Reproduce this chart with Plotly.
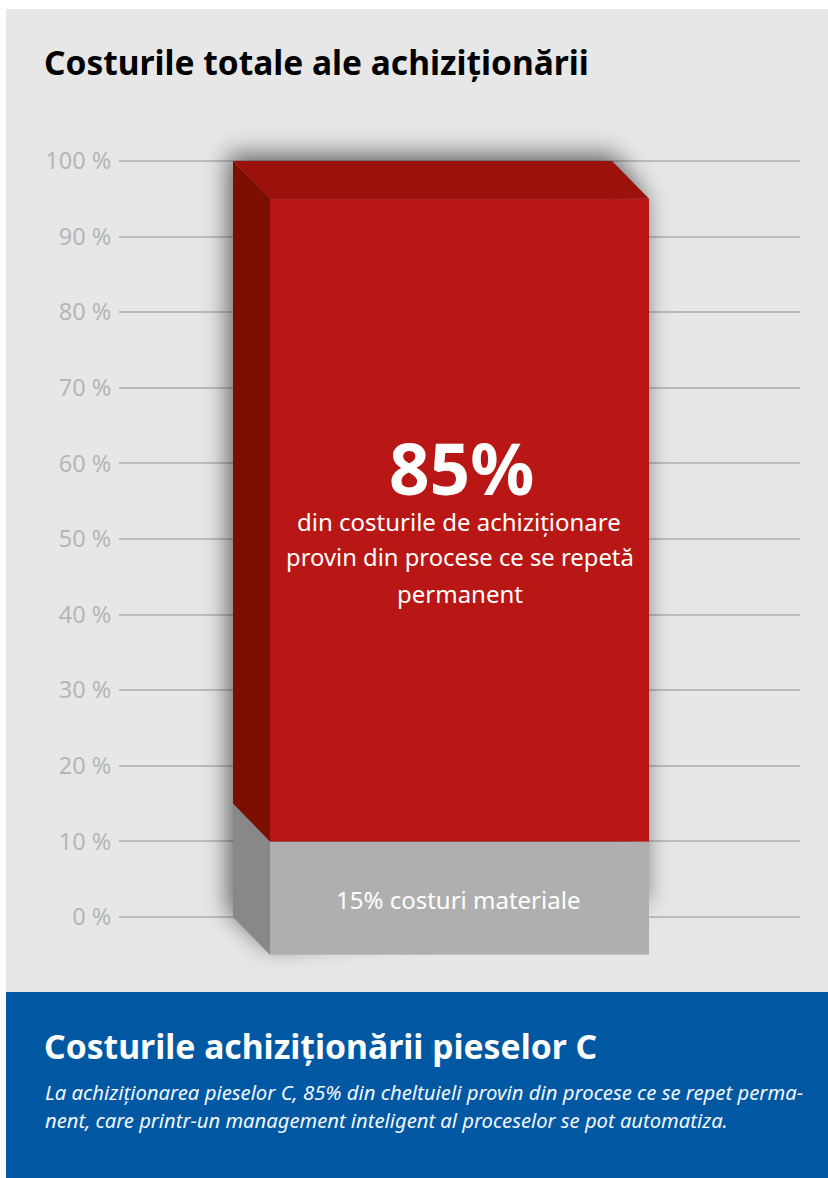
import plotly.graph_objects as go

# Data
tick_values = [0, 10, 20, 30, 40, 50, 60, 70, 80, 90, 100]
segment_names = ["costuri materiale", "procese"]
segment_values = [15, 85]
segment_front = ["#afafaf", "#b81715"]
segment_side = ["#888888", "#7d0f00"]
top_colour = "#9b120c"

W, H = 828, 1178
FONT = "Noto Sans"
Y0_PX, Y100_PX = 917, 161
PX = (Y0_PX - Y100_PX) / 100
PLOT_TOP, PLOT_BOTTOM = 120, 975
X_L, X_R = 119, 800
DEPTH_UNITS = 5.0
DEPTH_X = 37
BAR_LEFT = 233
BAR_W = 379


def y_px(p):
    return (Y0_PX - p) / PX


def py(p):
    return 1 - p / H


fig = go.Figure()


def poly(xs, ys, color, name):
    fig.add_trace(go.Scatter(
        x=xs + xs[:1], y=ys + ys[:1], mode="lines", fill="toself", fillcolor=color,
        line=dict(width=0), name=name, hoverinfo="skip", showlegend=False))


total = sum(segment_values)
L, F, R, RR = BAR_LEFT, BAR_LEFT + DEPTH_X, BAR_LEFT + BAR_W, BAR_LEFT + BAR_W + DEPTH_X

# soft drop shadow (first trace, blurred after drawing)
poly([L - 5, R + 2, RR - 4, RR - 4, F, L - 5],
     [total + 0.9, total + 0.9, total - DEPTH_UNITS, 2, -DEPTH_UNITS + 1, 1],
     "rgba(20,20,20,0.62)", "shadow")

# side faces and front faces, stacked from the values
base = 0
for name, val, side, front in zip(segment_names, segment_values, segment_side, segment_front):
    poly([L, F, F, L], [base, base - DEPTH_UNITS, base + val - DEPTH_UNITS, base + val], side, name)
    poly([F, RR, RR, F],
         [base - DEPTH_UNITS, base - DEPTH_UNITS, base + val - DEPTH_UNITS, base + val - DEPTH_UNITS],
         front, name)
    base += val

# top face
poly([L, R, RR, F], [total, total, total - DEPTH_UNITS, total - DEPTH_UNITS], top_colour, "top")


def note(text, x, y, size, color="white", anchor="center", bold=False, italic=False, family=FONT):
    if bold:
        text = f"<b>{text}</b>"
    if italic:
        text = f"<i>{text}</i>"
    fig.add_annotation(text=text, x=x / W, y=py(y), xref="paper", yref="paper",
                       xanchor=anchor, yanchor="middle", showarrow=False,
                       font=dict(size=size, color=color, family=family))


note("Costurile totale ale achiziționării", 42, 62, 33.5, "#000000", "left", bold=True)
note("85%", 461, 468, 71, bold=True)
note("din costurile de achiziționare", 459, 521, 24)
note("provin din procese ce se repetă", 460, 557, 23.8)
note("permanent", 460, 593, 24)
note("15% costuri materiale", 458, 899, 24)
note("Costurile achiziționării pieselor C", 42, 1046, 33.7, "white", "left", bold=True)
note("La achiziționarea pieselor C, 85% din cheltuieli provin din procese ce se repet perma-",
     43, 1092, 20.3, "#f4f7fb", "left", italic=True)
note("nent, care printr-un management inteligent al proceselor se pot automatiza.",
     43, 1120, 20.2, "#f4f7fb", "left", italic=True)

fig.update_layout(
    width=W, height=H, autosize=False,
    margin=dict(l=0, r=0, t=0, b=0),
    paper_bgcolor="white", plot_bgcolor="rgba(0,0,0,0)",
    showlegend=False, hovermode=False,
    xaxis=dict(domain=[X_L / W, X_R / W], range=[X_L, X_R], visible=False, fixedrange=True),
    yaxis=dict(
        domain=[py(PLOT_BOTTOM), py(PLOT_TOP)],
        range=[y_px(PLOT_BOTTOM), y_px(PLOT_TOP)],
        tickmode="array", tickvals=tick_values, ticktext=[f"{v} %" for v in tick_values],
        tickfont=dict(family=FONT, size=23.5, color="#b6b6b6"),
        ticks="outside", ticklen=2, tickcolor="rgba(0,0,0,0)",
        showgrid=True, gridcolor="#bcbcbc", gridwidth=1.5,
        zeroline=True, zerolinecolor="#bcbcbc", zerolinewidth=1.5,
        showline=False, fixedrange=True),
    shapes=[
        dict(type="rect", xref="paper", yref="paper", x0=6 / W, x1=1, y0=py(992), y1=py(9),
             fillcolor="#e7e7e7", line=dict(width=0), layer="below"),
        dict(type="rect", xref="paper", yref="paper", x0=6 / W, x1=1, y0=0, y1=py(992),
             fillcolor="#0058a3", line=dict(width=0), layer="below"),
    ],
)

post = """
document.body.style.margin='0';document.body.style.overflow='hidden';
var gd=document.getElementById('{plot_id}');
var blur=function(){var t=gd.querySelectorAll('.scatterlayer .trace')[0];if(t){t.style.filter='blur(12px)';}};
blur();setTimeout(blur,50);
"""
fig.write_html("out.html", config=dict(displayModeBar=False), post_script=post)
